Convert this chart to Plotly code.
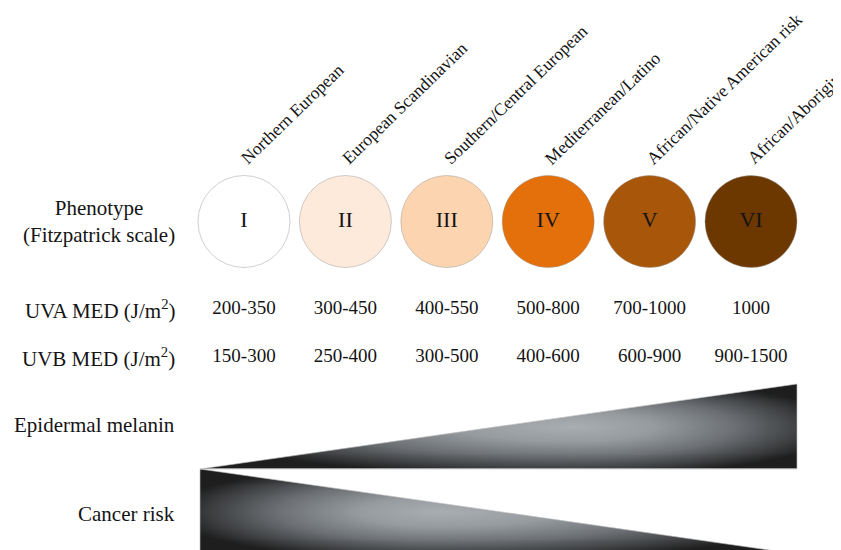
import numpy as np
import plotly.graph_objects as go

# ---------------- data ----------------
phenotypes = ["I", "II", "III", "IV", "V", "VI"]
ancestry = ["Northern European", "European Scandinavian", "Southern/Central European",
            "Mediterranean/Latino", "African/Native American risk", "African/Aboriginal"]
uva_med = ["200-350", "300-450", "400-550", "500-800", "700-1000", "1000"]
uvb_med = ["150-300", "250-400", "300-500", "400-600", "600-900", "900-1500"]
skin_colors = ["#ffffff", "#fdeadb", "#fcd5b0", "#e3700a", "#a8560a", "#6d3700"]
melanin_level = [0.0, 1.0]   # relative epidermal melanin, type I -> type VI
cancer_level = [1.0, 0.0]    # relative cancer risk, type I -> type VI

row_labels = ["Phenotype<br>(Fitzpatrick scale)", "UVA MED (J/m<sup>2</sup>)",
              "UVB MED (J/m<sup>2</sup>)", "Epidermal melanin", "Cancer risk"]

# ---------------- layout constants ----------------
W, H = 841, 550
OFF = 8                                 # page body margin
PX0, DX = 244.0, 101.4                  # page pixel of phenotype I, pixel spacing
XR = [-(PX0 - OFF) / DX, (W - (PX0 - OFF)) / DX]
YR = [H + OFF, OFF]
TX0, TX1 = (200 - PX0) / DX, (797 - PX0) / DX
Y_NAME, Y_CIRC, Y_UVA, Y_UVB = 171, 221.5, 309, 357
BAND_H = 85
MEL_BASE, CAN_BASE = 469, 554
ROW_Y = [221, 309, 357, 425, 514]
LABEL_RIGHT = (177 - OFF) / W
SERIF = "Liberation Serif, Times New Roman, serif"
INK = "#141414"
GRAD = [[0.0, "#a9aeb3"], [0.3, "#969ba0"], [0.6, "#6c7074"],
        [0.85, "#3c3e40"], [1.0, "#1e1e1e"]]

idx = list(range(len(phenotypes)))
fig = go.Figure()


def wedge(level, base, cu, cv, au_l, au_r, av):
    top = base - BAND_H
    nx, ny = 180, 44
    xe = np.linspace(TX0, TX1, nx + 1)
    ye = np.linspace(top, base, ny + 1)
    uc = (np.arange(nx) + 0.5) / nx
    vc = (np.arange(ny) + 0.5) / ny
    uu, vv = np.meshgrid(uc, vc)
    du = np.where(uu < cu, (uu - cu) / au_l, (uu - cu) / au_r)
    r = np.sqrt(du ** 2 + ((vv - cv) / av) ** 2)
    z = np.clip(r, 0, 1)
    fig.add_trace(go.Heatmap(x=xe, y=ye, z=z, colorscale=GRAD, zmin=0, zmax=1,
                             showscale=False, zsmooth="best", hoverinfo="skip"))
    y0e = base - BAND_H * level[0]
    y1e = base - BAND_H * level[1]
    e = 0.05
    fig.add_trace(go.Scatter(
        x=[TX0 - e, TX1 + e, TX1 + e, TX1, TX0, TX0 - e],
        y=[top - 0.6, top - 0.6, y1e, y1e, y0e, y0e],
        fill="toself", fillcolor="white", mode="lines",
        line=dict(width=0, color="white"), hoverinfo="skip", showlegend=False))
    fig.add_trace(go.Scatter(
        x=[TX0, TX0, TX1, TX1, TX0], y=[base, y0e, y1e, base, base],
        mode="lines", line=dict(width=0.8, color="rgba(190,190,190,0.8)"),
        hoverinfo="skip", showlegend=False))


# cancer first so melanin draws on top
wedge(cancer_level, CAN_BASE, 0.40, 0.50, 0.45, 0.65, 0.58)
wedge(melanin_level, MEL_BASE, 0.625, 0.50, 0.65, 0.45, 0.58)

# circles with roman numerals
fig.add_trace(go.Scatter(
    x=idx, y=[Y_CIRC] * len(idx), mode="markers+text",
    marker=dict(size=92, color=skin_colors,
                line=dict(width=1, color="rgba(150,150,150,0.45)")),
    text=phenotypes, textposition="middle center",
    textfont=dict(family=SERIF, size=22, color=INK),
    hoverinfo="skip", showlegend=False))

# MED rows
for vals, yy in [(uva_med, Y_UVA), (uvb_med, Y_UVB)]:
    fig.add_trace(go.Scatter(
        x=idx, y=[yy] * len(idx), mode="text", text=vals,
        textposition="middle center",
        textfont=dict(family=SERIF, size=19, color=INK),
        hoverinfo="skip", showlegend=False))

annotations = []
# rotated ancestry labels
for i, name in zip(idx, ancestry):
    annotations.append(dict(
        x=i - 0.10, y=Y_NAME, xref="x", yref="y", text=name, showarrow=False,
        textangle=-44, xanchor="left", yanchor="bottom",
        font=dict(family=SERIF, size=17.5, color=INK)))
# left row labels
for lab, yy in zip(row_labels, ROW_Y):
    annotations.append(dict(
        x=LABEL_RIGHT, y=yy, xref="paper", yref="y", text=lab, showarrow=False,
        xanchor="right", yanchor="middle", align="center",
        font=dict(family=SERIF, size=21, color=INK)))

fig.update_layout(
    width=W, height=H, margin=dict(l=0, r=0, t=0, b=0),
    paper_bgcolor="white", plot_bgcolor="white", showlegend=False,
    xaxis=dict(range=XR, visible=False, fixedrange=True),
    yaxis=dict(range=YR, visible=False, fixedrange=True),
    annotations=annotations,
)

fig.write_html("out.html", config={"displayModeBar": False})
